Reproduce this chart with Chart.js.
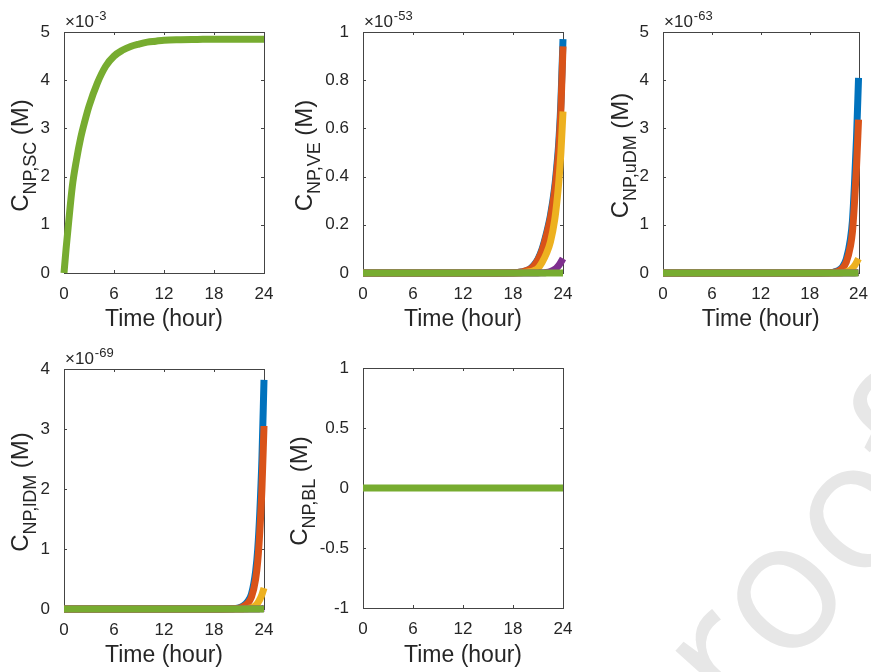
<!DOCTYPE html>
<html>
<head>
<meta charset="utf-8">
<script src="https://cdn.jsdelivr.net/npm/chart.js@4/dist/chart.umd.min.js"></script>
<style>
  html, body { margin: 0; padding: 0; background: #fff; }
  #page { position: relative; width: 871px; height: 672px; overflow: hidden; }
  .panel { position: absolute; }
  #mark {
    position: absolute; left: 766px; top: 591px;
    font-family: "Open Sans", sans-serif; font-size: 180px; line-height: 1;
    color: #e7e7e7; white-space: nowrap;
    transform: translate(-50%, -50%) rotate(-48deg);
  }
</style>
</head>
<body>
<div id="page">
  <div id="mark">proof</div>
  <canvas class="panel" id="pSC" width="290" height="336" style="left:0;top:0"></canvas>
  <canvas class="panel" id="pVE" width="290" height="336" style="left:290px;top:0"></canvas>
  <canvas class="panel" id="pUDM" width="291" height="336" style="left:580px;top:0"></canvas>
  <canvas class="panel" id="pLDM" width="290" height="336" style="left:0;top:336px"></canvas>
  <canvas class="panel" id="pBL" width="290" height="336" style="left:290px;top:336px"></canvas>
</div>
<script>
// MATLAB default line colours
const COLORS = ['#0072BD', '#D95319', '#EDB120', '#7E2F8E', '#77AC30'];
const FONT = '"Liberation Sans", Arial, sans-serif';
const TEXT = '#262626';

// skin compartment (x 1e-3 M), all runs overlap, green drawn on top
const TIME_SC = [0, 0.25, 0.5, 1, 1.5, 2, 2.5, 3, 4, 5, 6, 7, 8, 9, 10, 11, 12, 14, 16, 18, 20, 22, 24];
const SC_GREEN = [0, 0.5, 0.95, 1.8, 2.35, 2.8, 3.15, 3.46, 3.94, 4.29, 4.5, 4.62, 4.7, 4.75, 4.79, 4.81, 4.83, 4.84, 4.845, 4.85, 4.85, 4.85, 4.85];

// deeper compartments share one time grid
const TIME_END = [0, 6, 12, 18, 19, 20, 20.5, 21, 21.5, 22, 22.5, 23, 23.25, 23.5, 23.75, 24];

// viable epidermis (x 1e-53 M)
const VE_BLUE   = [0, 0, 0, 0.001, 0.004, 0.016, 0.032, 0.058, 0.1, 0.162, 0.24, 0.355, 0.44, 0.545, 0.71, 0.97];
const VE_ORANGE = [0, 0, 0, 0.001, 0.004, 0.015, 0.03, 0.055, 0.095, 0.155, 0.23, 0.34, 0.42, 0.52, 0.68, 0.94];
const VE_YELLOW = [0, 0, 0, 0, 0.001, 0.005, 0.01, 0.02, 0.045, 0.08, 0.13, 0.22, 0.29, 0.38, 0.5, 0.67];
const VE_PURPLE = [0, 0, 0, 0, 0, 0, 0, 0, 0.001, 0.002, 0.006, 0.015, 0.022, 0.032, 0.045, 0.06];
const VE_GREEN  = [0, 0, 0, 0, 0, 0, 0, 0, 0, 0, 0, 0, 0, 0, 0, 0];

// upper dermis (x 1e-63 M)
const UDM_BLUE   = [0, 0, 0, 0.001, 0.002, 0.004, 0.009, 0.02, 0.05, 0.12, 0.29, 0.7, 1.08, 1.84, 2.8, 4.05];
const UDM_ORANGE = [0, 0, 0, 0, 0.001, 0.003, 0.007, 0.016, 0.04, 0.095, 0.23, 0.55, 0.85, 1.45, 2.2, 3.18];
const UDM_YELLOW = [0, 0, 0, 0, 0, 0, 0, 0, 0.002, 0.005, 0.02, 0.06, 0.1, 0.15, 0.22, 0.3];
const UDM_PURPLE = [0, 0, 0, 0, 0, 0, 0, 0, 0, 0, 0, 0, 0, 0.002, 0.005, 0.01];
const UDM_GREEN  = [0, 0, 0, 0, 0, 0, 0, 0, 0, 0, 0, 0, 0, 0, 0, 0];

// lower dermis (x 1e-69 M)
const LDM_BLUE   = [0, 0, 0, 0.001, 0.002, 0.004, 0.009, 0.02, 0.05, 0.115, 0.25, 0.63, 1.0, 1.62, 2.5, 3.82];
const LDM_ORANGE = [0, 0, 0, 0, 0.001, 0.003, 0.007, 0.015, 0.04, 0.09, 0.2, 0.5, 0.8, 1.3, 2.0, 3.05];
const LDM_YELLOW = [0, 0, 0, 0, 0, 0, 0, 0, 0.002, 0.005, 0.02, 0.06, 0.1, 0.16, 0.24, 0.35];
const LDM_PURPLE = [0, 0, 0, 0, 0, 0, 0, 0, 0, 0, 0, 0, 0, 0.002, 0.005, 0.01];
const LDM_GREEN  = [0, 0, 0, 0, 0, 0, 0, 0, 0, 0, 0, 0, 0, 0, 0, 0];

// blood
const BL_GREEN = [0, 0, 0, 0, 0, 0, 0, 0, 0, 0, 0, 0, 0, 0, 0, 0];

const X_TICKS = [0, 6, 12, 18, 24];

// box, inward ticks, y label with subscript and the x10^n factor
const axisDecor = {
    id: 'axisDecor',
    beforeDraw(chart) {
        const a = chart.chartArea;
        const ctx = chart.ctx;
        ctx.save();
        ctx.fillStyle = '#fff';
        ctx.fillRect(a.left, a.top, a.right - a.left, a.bottom - a.top);
        ctx.restore();
    },
    beforeDatasetsDraw(chart) {
        const a = chart.chartArea;
        const ctx = chart.ctx;
        ctx.save();
        ctx.strokeStyle = '#444';
        ctx.lineWidth = 1;
        ctx.strokeRect(Math.round(a.left) + 0.5, Math.round(a.top) + 0.5, Math.round(a.right - a.left), Math.round(a.bottom - a.top));
        ctx.beginPath();
        chart.scales.x.ticks.forEach(t => {
            let px = Math.round(chart.scales.x.getPixelForValue(t.value)) + 0.5;
            ctx.moveTo(px, a.bottom); ctx.lineTo(px, a.bottom - 3);
            ctx.moveTo(px, a.top); ctx.lineTo(px, a.top + 3);
        });
        chart.scales.y.ticks.forEach(t => {
            let py = Math.round(chart.scales.y.getPixelForValue(t.value)) + 0.5;
            ctx.moveTo(a.left, py); ctx.lineTo(a.left + 3, py);
            ctx.moveTo(a.right, py); ctx.lineTo(a.right - 3, py);
        });
        ctx.stroke();
        ctx.restore();
    },
    afterDraw(chart) {
        const o = chart.options.plugins.axisDecor;
        const a = chart.chartArea;
        const ctx = chart.ctx;
        ctx.save();
        ctx.fillStyle = TEXT;
        // y title
        ctx.translate(a.left + o.dx, (a.top + a.bottom) / 2 + 3);
        ctx.rotate(-Math.PI / 2);
        ctx.textBaseline = 'alphabetic';
        ctx.font = '24px ' + FONT;
        let w1 = ctx.measureText('C').width;
        let w3 = ctx.measureText(' (M)').width;
        ctx.font = '18px ' + FONT;
        let w2 = ctx.measureText(o.sub).width;
        let x0 = -(w1 + w2 + w3) / 2;
        ctx.font = '24px ' + FONT;
        ctx.fillText('C', x0, 0);
        ctx.fillText(' (M)', x0 + w1 + w2, 0);
        ctx.font = '18px ' + FONT;
        ctx.fillText(o.sub, x0 + w1, 8);
        ctx.restore();
        // exponent above the axis
        if (o.exp) {
            ctx.save();
            ctx.fillStyle = TEXT;
            ctx.font = '17px ' + FONT;
            ctx.fillText('\u00d710', a.left + 1, a.top - 5);
            let w = ctx.measureText('\u00d710').width;
            ctx.font = '13px ' + FONT;
            ctx.fillText(o.exp, a.left + 2 + w, a.top - 12);
            ctx.restore();
        }
    }
};

function series(time, values, color, order) {
    return {
        data: time.map((t, i) => ({x: t, y: values[i]})),
        borderColor: color,
        backgroundColor: color,
        borderWidth: 7,
        pointRadius: 0,
        cubicInterpolationMode: 'monotone',
        clip: false,
        order: order
    };
}

function makePanel(id, datasets, yMin, yMax, yStep, sub, exp, pad) {
    return new Chart(document.getElementById(id), {
        type: 'line',
        data: {datasets: datasets},
        plugins: [axisDecor],
        options: {
            responsive: false,
            animation: false,
            layout: {padding: {left: 0, right: pad.right, top: pad.top, bottom: 0}},
            plugins: {
                legend: {display: false},
                tooltip: {enabled: false},
                axisDecor: {sub: sub, exp: exp, dx: pad.dx}
            },
            scales: {
                x: {
                    type: 'linear',
                    min: 0,
                    max: 24,
                    afterBuildTicks: s => { s.ticks = X_TICKS.map(v => ({value: v})); },
                    afterFit: s => { s.height = pad.xh; },
                    grid: {display: false},
                    border: {display: false},
                    ticks: {color: TEXT, font: {family: FONT, size: 17}, padding: 3, maxRotation: 0, autoSkip: false},
                    title: {display: true, text: 'Time (hour)', color: TEXT, font: {family: FONT, size: 23}, padding: {top: 0, bottom: 3}}
                },
                y: {
                    min: yMin,
                    max: yMax,
                    afterFit: s => { s.width = pad.left; },
                    grid: {display: false},
                    border: {display: false},
                    ticks: {
                        stepSize: yStep, color: TEXT, font: {family: FONT, size: 17}, padding: 6,
                        callback: v => String(Number(v.toFixed(3)))
                    }
                }
            }
        }
    });
}

// later runs are drawn on top (lower order = drawn last)
function runs(b, o, y, p, g) {
    return [
        series(TIME_END, b, COLORS[0], 4),
        series(TIME_END, o, COLORS[1], 3),
        series(TIME_END, y, COLORS[2], 2),
        series(TIME_END, p, COLORS[3], 1),
        series(TIME_END, g, COLORS[4], 0)
    ];
}

makePanel('pSC', [series(TIME_SC, SC_GREEN, COLORS[4], 0)],
    0, 5, 1, 'NP,SC', '-3', {left: 64, right: 26, top: 32, xh: 63, dx: -36});

makePanel('pVE', runs(VE_BLUE, VE_ORANGE, VE_YELLOW, VE_PURPLE, VE_GREEN),
    0, 1, 0.2, 'NP,VE', '-53', {left: 73, right: 17, top: 32, xh: 63, dx: -51});

makePanel('pUDM', runs(UDM_BLUE, UDM_ORANGE, UDM_YELLOW, UDM_PURPLE, UDM_GREEN),
    0, 5, 1, 'NP,uDM', '-63', {left: 83, right: 9, top: 32, xh: 63, dx: -35});

makePanel('pLDM', runs(LDM_BLUE, LDM_ORANGE, LDM_YELLOW, LDM_PURPLE, LDM_GREEN),
    0, 4, 1, 'NP,lDM', '-69', {left: 64, right: 26, top: 33, xh: 63, dx: -36});

makePanel('pBL', [series(TIME_END, BL_GREEN, COLORS[4], 0)],
    -1, 1, 0.5, 'NP,BL', null, {left: 73, right: 17, top: 32, xh: 64, dx: -56});
</script>
</body>
</html>
